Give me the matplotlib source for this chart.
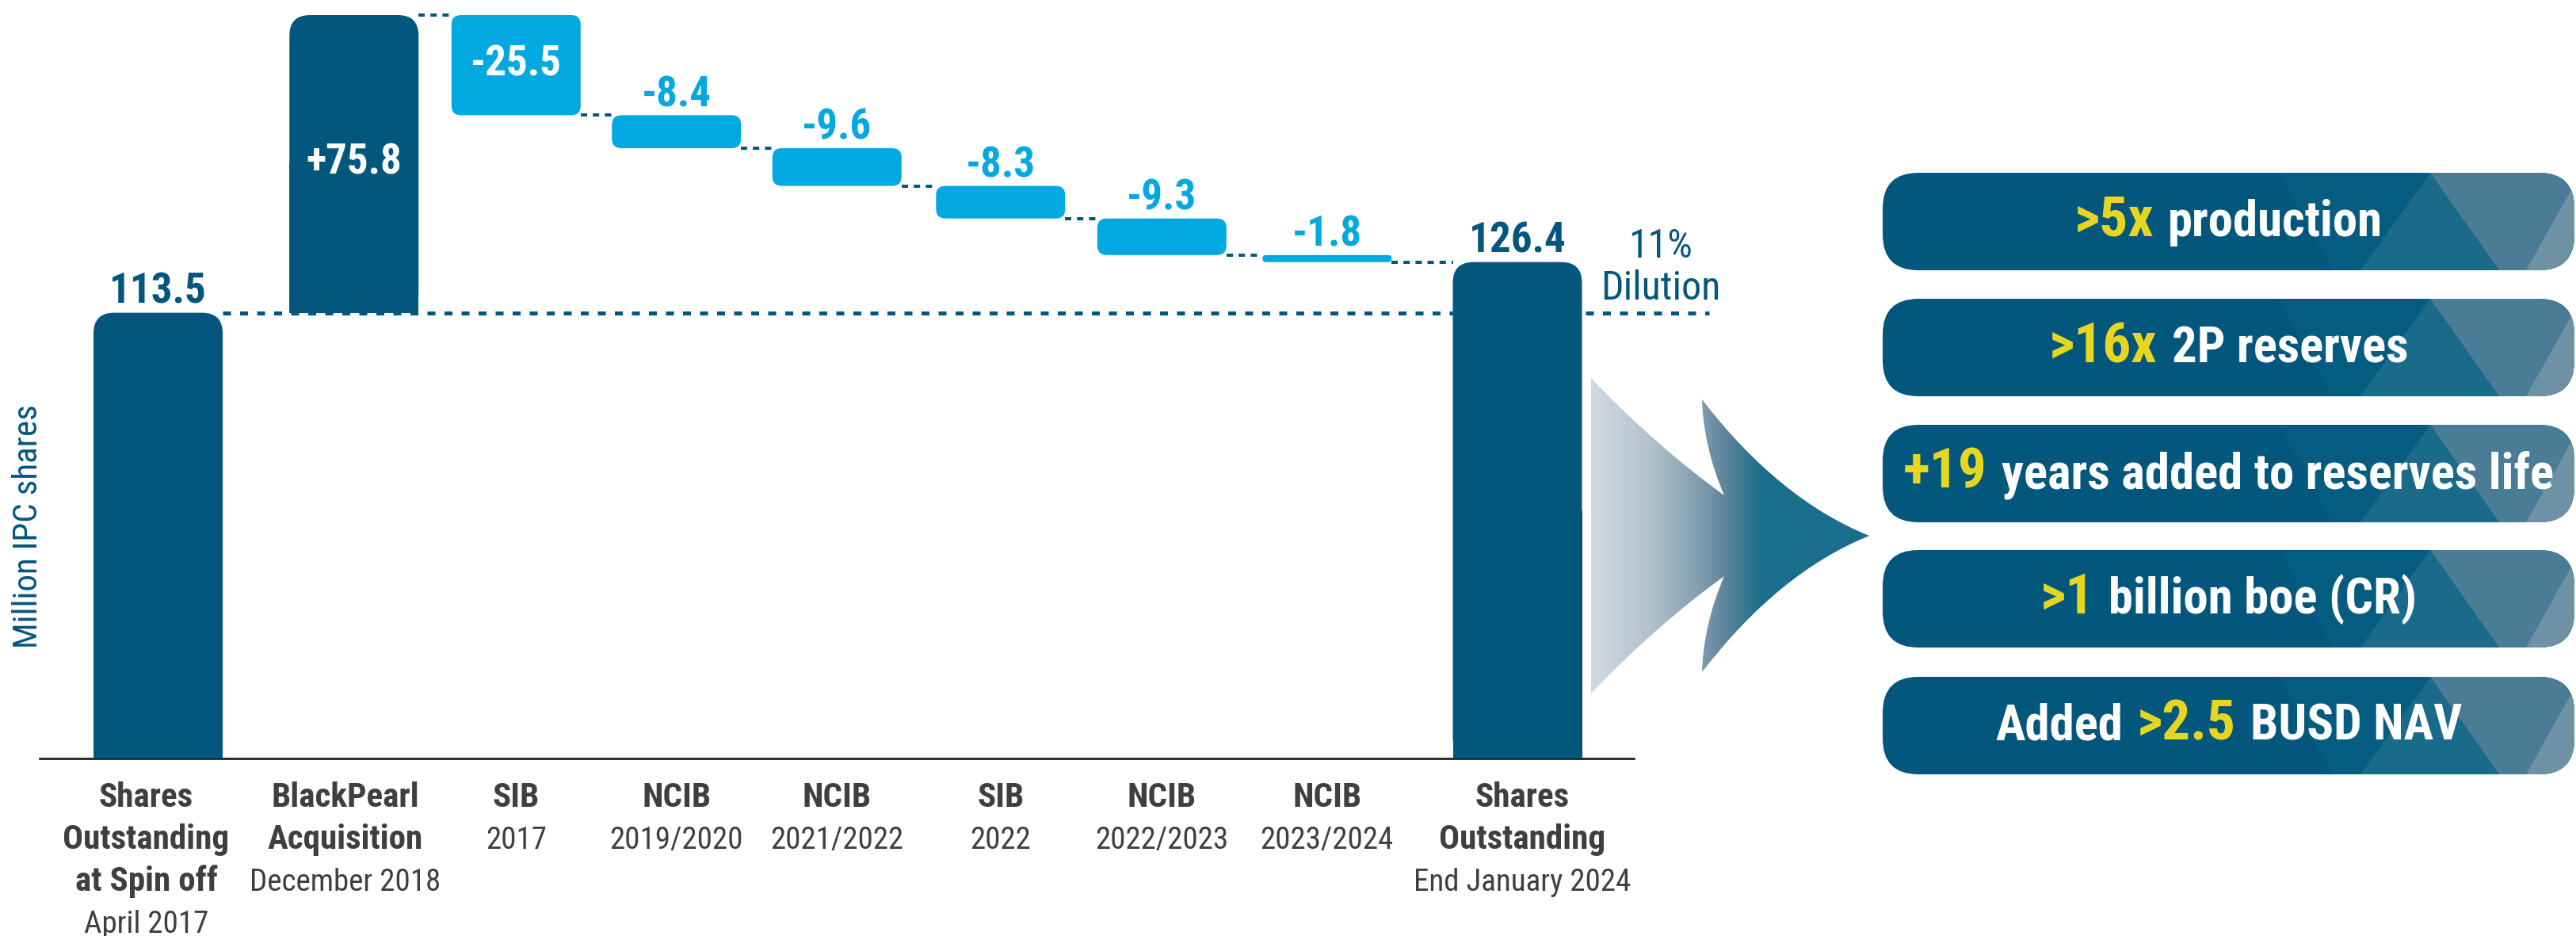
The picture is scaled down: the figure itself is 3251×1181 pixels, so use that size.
import matplotlib
matplotlib.use("Agg")
import matplotlib.pyplot as plt
import numpy as np
from matplotlib.patches import FancyBboxPatch, Rectangle, PathPatch, Polygon
from matplotlib.path import Path
from matplotlib.colors import LinearSegmentedColormap
from matplotlib import font_manager as fm

# ---------------- data ----------------
category_main = [
    ["Shares", "Outstanding", "at Spin off"],
    ["BlackPearl", "Acquisition"],
    ["SIB"], ["NCIB"], ["NCIB"], ["SIB"], ["NCIB"], ["NCIB"],
    ["Shares", "Outstanding"],
]
category_sub = ["April 2017", "December 2018", "2017", "2019/2020", "2021/2022",
                "2022", "2022/2023", "2023/2024", "End January 2024"]
start_total = 113.5
changes = [75.8, -25.5, -8.4, -9.6, -8.3, -9.3, -1.8]
end_total = 126.4
value_labels = ["113.5", "+75.8", "-25.5", "-8.4", "-9.6", "-8.3", "-9.3", "-1.8", "126.4"]
dilution_text = ["11%", "Dilution"]
y_axis_label = "Million IPC shares"
highlight_rows = [
    [(">5x", True), ("production", False)],
    [(">16x", True), ("2P reserves", False)],
    [("+19", True), ("years added to reserves life", False)],
    [(">1", True), ("billion boe (CR)", False)],
    [("Added", False), (">2.5", True), ("BUSD NAV", False)],
]

# ---------------- font selection (prefer a condensed face) ----------------
found = {}
for f in fm.fontManager.ttflist:
    st = str(f.stretch)
    if ("condensed" in st) or ("Narrow" in f.name) or ("Condensed" in f.name):
        found.setdefault(f.name, set()).add(st)
priority = ["Roboto Condensed", "Liberation Sans Narrow", "Archivo Narrow",
            "Asap Condensed", "Noto Sans Condensed", "Open Sans Condensed",
            "DejaVu Sans Condensed", "DejaVu Sans"]
FAM, STRETCH = "Roboto", "normal"
for p in priority:
    if p in found:
        FAM = p
        sts = found[p]
        STRETCH = "condensed" if "condensed" in sts else sorted(sts)[0]
        break
FONT = dict(family=[FAM, "DejaVu Sans"], fontstretch=STRETCH)

# ---------------- style / layout ----------------
DARK = "#03577d"
LIGHT = "#02a9e0"
GREY_TXT = "#3f3f3f"
YELLOW = "#e6d620"

W, H = 3251, 1181
AX_L, AX_R, AX_B = 50, 2062, 957
PX_X, X0PX, PX_Y = 203.5, 199.5, 4.955
positions = [0, 1.215, 2.22, 3.215, 4.21, 5.225, 6.225, 7.25, 8.43]
label_dx_px = [-15, -11, 0, 0, 0, 0, 0, 0, 6]
BAR_W = 163 / PX_X
PT = 72 / 100.0  # points per pixel

fig = plt.figure(figsize=(W / 100, H / 100), dpi=100)
renderer = fig.canvas.get_renderer()


def fit_size(text, weight, target_px, base, max_factor=1.08):
    t = fig.text(0, 0, text, fontsize=base, fontweight=weight, **FONT)
    w = t.get_window_extent(renderer).width
    t.remove()
    return base * min(max_factor, target_px / w)


SZ_CAT_B = fit_size("Outstanding", "bold", 210, 31)
SZ_CAT_R = fit_size("End January 2024", "normal", 275, 30)
SZ_VAL = fit_size("113.5", "bold", 123, 38)
SZ_DIL = fit_size("Dilution", "normal", 151, 37)
SZ_YLAB = fit_size(y_axis_label, "normal", 308, 33)
SZ_BOX_W = fit_size("years added to reserves life", "bold", 698, 46)
SZ_BOX_Y = fit_size("+19", "bold", 106, 55)

ax = fig.add_axes([AX_L / W, (H - AX_B) / H, (AX_R - AX_L) / W, AX_B / H])
ax.set_xlim((AX_L - X0PX) / PX_X, (AX_R - X0PX) / PX_X)
ax.set_ylim(0, AX_B / PX_Y)
for s in ["left", "right", "top"]:
    ax.spines[s].set_visible(False)
ax.spines["bottom"].set_color("#111111")
ax.spines["bottom"].set_linewidth(2.6 * PT)
ax.set_xticks([])
ax.set_yticks([])
ax.patch.set_alpha(0)

# ---- waterfall geometry from data ----
bottoms, heights, kinds = [0.0], [start_total], ["total"]
running = start_total
levels = [start_total]
for c in changes:
    if c >= 0:
        bottoms.append(running); heights.append(c); kinds.append("up")
    else:
        bottoms.append(running + c); heights.append(-c); kinds.append("down")
    running += c
    levels.append(running)
bottoms.append(0.0); heights.append(end_total); kinds.append("total")

aspect = PX_X / PX_Y


def draw_bar(x, b, h, color, r_px, square_bottom):
    r = min(r_px / PX_X, BAR_W / 2, (h / aspect) / 2)
    p = FancyBboxPatch((x - BAR_W / 2, b), BAR_W, h,
                       boxstyle=f"round,pad=0,rounding_size={r}",
                       mutation_aspect=aspect, fc=color, ec="none", zorder=3)
    ax.add_patch(p)
    if square_bottom:
        ax.add_patch(Rectangle((x - BAR_W / 2, b), BAR_W, h / 2, fc=color,
                               ec="none", zorder=3))


for i, (x, b, h, k) in enumerate(zip(positions, bottoms, heights, kinds)):
    if k == "down":
        draw_bar(x, b, h, LIGHT, 12, False)
    else:
        draw_bar(x, b, h, DARK, 26, True)

# long dotted reference line at start level
x_end_data = (2157 - X0PX) / PX_X
ax.plot([positions[0] + BAR_W / 2, x_end_data], [start_total, start_total],
        color=DARK, lw=5 * PT, linestyle=(0, (2.0, 2.3)), zorder=2, clip_on=False)

# connectors
for i in range(1, len(positions) - 1):
    lvl = levels[i]
    ax.plot([positions[i] + BAR_W / 2, positions[i + 1] - BAR_W / 2], [lvl, lvl],
            color=DARK, lw=4 * PT, linestyle=(0, (2.0, 1.8)), zorder=2)

# value labels
for i, (x, b, h, k) in enumerate(zip(positions, bottoms, heights, kinds)):
    if k == "total":
        xy, dy, col = (x, b + h), 12, DARK
    elif h > 20:
        xy, dy, col = (x, b + h / 2), -13, "white"
    else:
        xy, dy, col = (x, b + h), 11, LIGHT
    ax.annotate(value_labels[i], xy=xy, xytext=(0, dy * PT),
                textcoords="offset points", ha="center", va="baseline",
                fontsize=SZ_VAL, fontweight="bold", color=col, zorder=5, **FONT)

# category labels
for i, x in enumerate(positions):
    lines = [(t, "bold") for t in category_main[i]] + [(category_sub[i], "normal")]
    for j, (t, wgt) in enumerate(lines):
        ax.annotate(t, xy=(x, 0), xycoords=("data", "axes fraction"),
                    xytext=(label_dx_px[i] * PT, -(61 + 53 * j) * PT),
                    textcoords="offset points", ha="center", va="baseline",
                    fontsize=SZ_CAT_B if wgt == "bold" else SZ_CAT_R,
                    fontweight=wgt, color=GREY_TXT, annotation_clip=False, **FONT)

# ---------------- overlay (pixel coordinates) ----------------
oax = fig.add_axes([0, 0, 1, 1])
oax.patch.set_alpha(0)

oax.text(36, 664, y_axis_label, rotation=90, ha="center", va="center",
         fontsize=SZ_YLAB, color=DARK, **FONT)

oax.text(2096, 325, dilution_text[0], ha="center", va="baseline", fontsize=SZ_DIL,
         color=DARK, **FONT)
oax.text(2096, 378, dilution_text[1], ha="center", va="baseline", fontsize=SZ_DIL,
         color=DARK, **FONT)

# arrow
verts = [
    (2008, 477), (2090, 563), (2176, 625),
    (2150, 565), (2148, 504),
    (2245, 630), (2359, 676),
    (2245, 722), (2148, 848),
    (2150, 787), (2176, 727),
    (2090, 789), (2008, 875),
    (2008, 477),
]
codes = [Path.MOVETO] + [Path.CURVE3] * 12 + [Path.CLOSEPOLY]
arrow = PathPatch(Path(verts, codes), fc="none", ec="none")
oax.add_patch(arrow)
cmap = LinearSegmentedColormap.from_list("arr", [
    (0.0, "#d2dae1"), (0.205, "#b4c3cd"), (0.395, "#7f9caf"),
    (0.49, "#5a8299"), (0.61, "#1b6d8c"), (1.0, "#1b6d8c")])
grad = np.linspace(0, 1, 512).reshape(1, -1)
im = oax.imshow(grad, cmap=cmap, extent=[2008, 2360, 875, 477], aspect="auto",
                zorder=2, interpolation="bilinear")
im.set_clip_path(arrow)

# highlight boxes
BOX_L, BOX_R, BOX_H = 2376, 3249, 123
box_tops = [218, 377, 536, 694, 854]
BOX_BASE = "#03577d"
for T, row in zip(box_tops, highlight_rows):
    B = T + BOX_H
    box = FancyBboxPatch((BOX_L, T), BOX_R - BOX_L, BOX_H,
                         boxstyle="round,pad=0,rounding_size=45",
                         fc=BOX_BASE, ec="none", zorder=3)
    oax.add_patch(box)
    shapes = [
        ([(2876, T), (3300, T), (3300, B), (2944, B)], "#045d81"),
        ([(3067, T), (3154, B), (2979, B)], "#1a6a89"),
        ([(3067, T), (3300, T), (3300, B), (3154, B)], "#4b7c96"),
        ([(3257, T), (3300, T), (3300, B), (3188, B)], "#6f91a6"),
    ]
    for pts, col in shapes:
        pg = Polygon(pts, closed=True, fc=col, ec="none", zorder=3)
        oax.add_patch(pg)
        pg.set_clip_path(box)

GAP = 18
for T, row in zip(box_tops, highlight_rows):
    base = T + 80
    objs = []
    for txt, hl in row:
        t = oax.text(0, base, txt, ha="left", va="baseline",
                     fontsize=SZ_BOX_Y if hl else SZ_BOX_W, fontweight="bold",
                     color=YELLOW if hl else "white", zorder=6, **FONT)
        objs.append(t)
    widths = [o.get_window_extent(renderer).width for o in objs]
    total = sum(widths) + GAP * (len(objs) - 1)
    x = (BOX_L + BOX_R) / 2 - total / 2
    for o, w_ in zip(objs, widths):
        o.set_x(x)
        x += w_ + GAP

oax.set_xlim(0, W)
oax.set_ylim(H, 0)
oax.axis("off")

fig.savefig("out.png", dpi=100)
